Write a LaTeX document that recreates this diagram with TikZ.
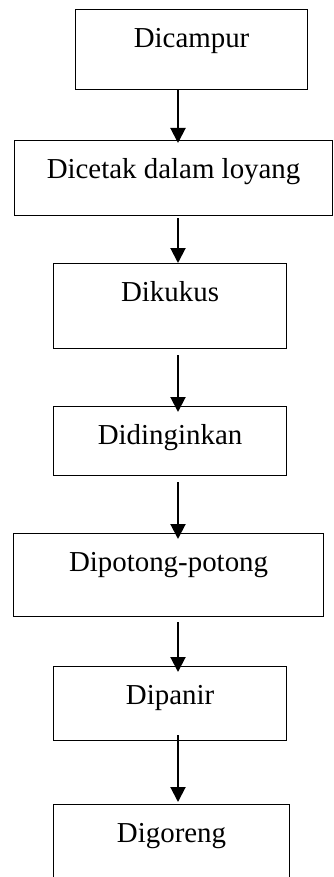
\documentclass[tikz,border=0pt]{standalone}
\usepackage{fontspec}
\setmainfont{Liberation Serif}
\usetikzlibrary{arrows.meta}
\tikzset{
  box/.style={draw=black, line width=1.1pt, inner sep=0pt, anchor=north west,
    text height=38pt, font=\fontsize{28.9}{34}\selectfont},
  flow/.style={line width=2pt, -{Triangle[width=15pt,length=15pt]}}
}
\begin{document}
\begin{tikzpicture}[x=1pt,y=1pt]
\useasboundingbox (0,0) rectangle (333,-877);
\node[box, minimum width=232pt, text depth=42pt] (b1) at (75,-9) {Dicampur};
\node[box, minimum width=318pt, text depth=37pt] (b2) at (14,-140) {Dicetak dalam loyang};
\node[box, minimum width=233pt, text depth=47pt] (b3) at (53,-263) {Dikukus};
\node[box, minimum width=233pt, text depth=31pt] (b4) at (53,-406) {Didinginkan};
\node[box, minimum width=310pt, text depth=45pt] (b5) at (13,-533) {Dipotong-potong};
\node[box, minimum width=233pt, text depth=36pt] (b6) at (53,-666) {Dipanir};
\node[box, minimum width=236pt, text depth=45pt] (b7) at (53,-804) {Digoreng};
\coordinate (ax) at (178,0);
\draw[flow, shorten >=-3pt] (b1.south -| ax) -- (b2.north -| ax);
\draw[flow, shorten <=2pt] (b2.south -| ax) -- (b3.north -| ax);
\draw[flow, shorten <=6pt, shorten >=-6pt] (b3.south -| ax) -- (b4.north -| ax);
\draw[flow, shorten <=6pt, shorten >=-6pt] (b4.south -| ax) -- (b5.north -| ax);
\draw[flow, shorten <=5pt, shorten >=-6pt] (b5.south -| ax) -- (b6.north -| ax);
\draw[flow, shorten <=-6pt, shorten >=2pt] (b6.south -| ax) -- (b7.north -| ax);
\end{tikzpicture}
\end{document}
